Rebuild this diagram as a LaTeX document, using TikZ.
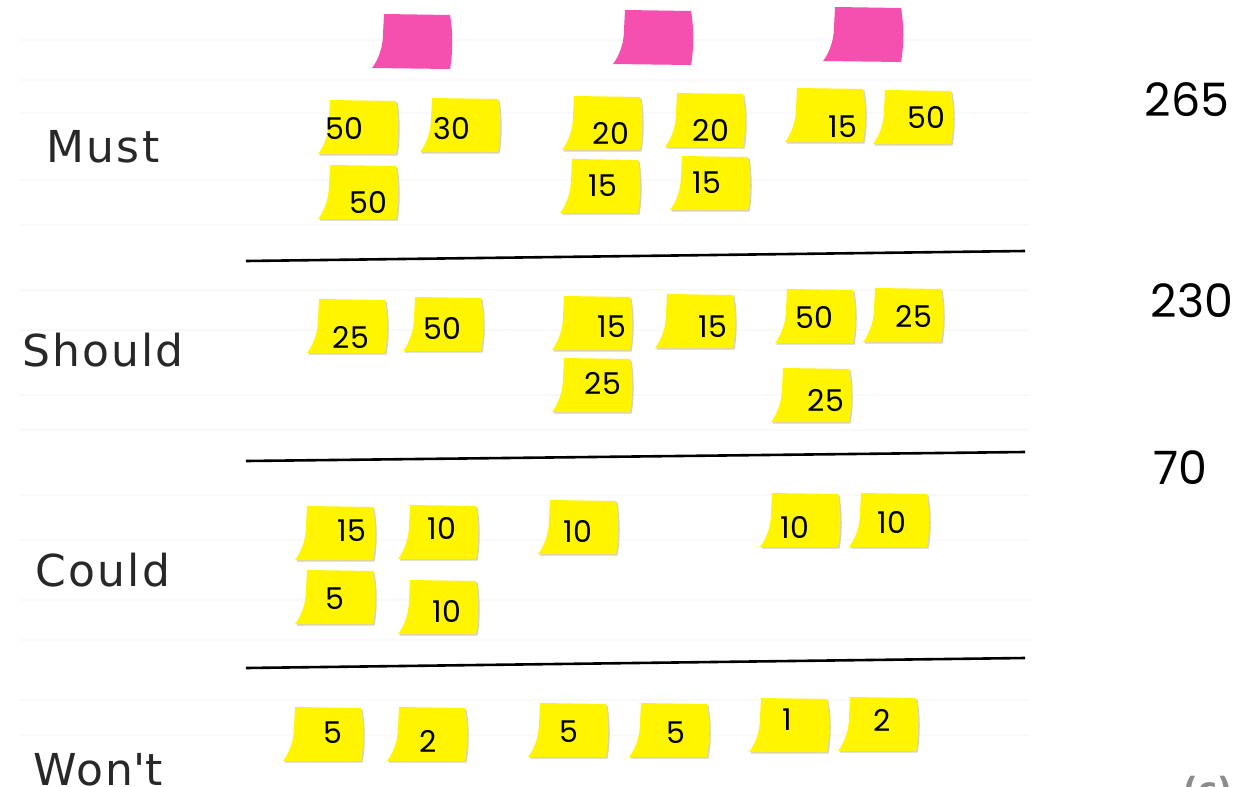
\documentclass[tikz,border=0pt]{standalone}
\usepackage{fontspec}
\setmainfont{DejaVu Sans}
\newfontfamily\numfont{Poppins}
\newfontfamily\labelfont[LetterSpace=5]{DejaVu Sans}
\definecolor{stickyyellow}{RGB}{255,245,0}
\definecolor{stickypink}{RGB}{245,80,176}
\definecolor{shadowbrown}{RGB}{150,130,60}
\definecolor{labelgray}{RGB}{40,40,40}
\tikzset{
  notenum/.style={font=\numfont\fontsize{15}{15}\selectfont, text=black, inner sep=0pt},
  rowlabel/.style={font=\labelfont\fontsize{22}{22}\selectfont, text=labelgray, inner sep=0pt},
  total/.style={font=\numfont\fontsize{23}{23}\selectfont, text=black, inner sep=0pt},
  divider/.style={line width=1.3pt, black},
}
\newcommand{\notepath}{(12,0) -- (78,1) .. controls (81,18) and (81,38) .. (78,54) -- (0,54) .. controls (7,45) and (11,32) .. (11,20) .. controls (11,10) .. (12,0) -- cycle}
% \sticky{name}{x}{y}{colour}{text}{textx}{texty}
\newcommand{\sticky}[7]{%
  \fill[shadowbrown!60, opacity=0.6, shift={(#2+1.5,#3+1.5)}] \notepath;
  \fill[#4, shift={(#2,#3)}] \notepath;
  \node[notenum] (#1) at (#6,#7) {#5};
}
\newcommand{\pinknote}[3]{%
  \fill[stickypink, shift={(#2,#3)}] (12,0) -- (78,1) .. controls (81,18) and (81,38) .. (78,55) -- (0,54) .. controls (7,45) and (11,32) .. (11,20) .. controls (11,10) .. (12,0) -- cycle;
  \coordinate (#1) at (#2+40,#3+28);
}
\begin{document}
\begin{tikzpicture}[x=0.5pt,y=-0.5pt]
\useasboundingbox (0,0) rectangle (1237,787);
\fill[white] (0,0) rectangle (1237,787);
\clip (0,0) rectangle (1237,787);

% faint paper lines
\foreach \yy in {40,80,113,180,225,290,330,395,430,495,540,600,640,700,735}
  \draw[black!2.5, line width=0.6pt] (20,\yy) -- (1030,\yy);

% row labels
\node[rowlabel] (must) at (103,147) {Must};
\node[rowlabel] (should) at (103,350) {Should};
\node[rowlabel] (could) at (103,570) {Could};
\node[rowlabel] (wont) at (98,770) {Won\textquotesingle t};

% dividers
\coordinate (d1l) at (246,261); \coordinate (d1r) at (1025,251);
\coordinate (d2l) at (246,461); \coordinate (d2r) at (1025,452);
\coordinate (d3l) at (246,668); \coordinate (d3r) at (1025,658);
\draw[divider] (d1l) -- (d1r);
\draw[divider] (d2l) -- (d2r);
\draw[divider] (d3l) -- (d3r);

% pink headers
\pinknote{p1}{372}{14}
\pinknote{p2}{613}{10}
\pinknote{p3}{823}{7}

% Must
\sticky{m1}{318}{100}{stickyyellow}{50}{344}{129}
\sticky{m2}{420}{98}{stickyyellow}{30}{452}{129}
\sticky{m3}{318}{165}{stickyyellow}{50}{368}{203}
\sticky{m4}{562}{96}{stickyyellow}{20}{611}{133}
\sticky{m5}{665}{93}{stickyyellow}{20}{711}{130}
\sticky{m6}{560}{159}{stickyyellow}{15}{603}{186}
\sticky{m7}{670}{156}{stickyyellow}{15}{707}{183}
\sticky{m8}{785}{88}{stickyyellow}{15}{843}{127}
\sticky{m9}{873}{90}{stickyyellow}{50}{926}{118}

% Should
\sticky{s1}{307}{299}{stickyyellow}{25}{351}{337}
\sticky{s2}{403}{297}{stickyyellow}{50}{442}{329}
\sticky{s3}{552}{296}{stickyyellow}{15}{612}{327}
\sticky{s4}{655}{294}{stickyyellow}{15}{713}{327}
\sticky{s5}{552}{358}{stickyyellow}{25}{603}{383}
\sticky{s6}{775}{289}{stickyyellow}{50}{814}{318}
\sticky{s7}{863}{288}{stickyyellow}{25}{914}{316}
\sticky{s8}{771}{368}{stickyyellow}{25}{826}{400}

% Could
\sticky{c1}{295}{506}{stickyyellow}{15}{352}{531}
\sticky{c2}{398}{505}{stickyyellow}{10}{442}{528}
\sticky{c3}{538}{500}{stickyyellow}{10}{578}{531}
\sticky{c4}{760}{493}{stickyyellow}{10}{795}{527}
\sticky{c5}{849}{493}{stickyyellow}{10}{892}{522}
\sticky{c6}{295}{570}{stickyyellow}{5}{335}{599}
\sticky{c7}{398}{580}{stickyyellow}{10}{447}{611}

% Won't
\sticky{w1}{283}{707}{stickyyellow}{5}{333}{733}
\sticky{w2}{387}{707}{stickyyellow}{2}{428}{741}
\sticky{w3}{528}{703}{stickyyellow}{5}{569}{732}
\sticky{w4}{629}{703}{stickyyellow}{5}{676}{733}
\sticky{w5}{749}{698}{stickyyellow}{1}{787}{720}
\sticky{w6}{838}{697}{stickyyellow}{2}{882}{720}

% totals
\node[total] (t1) at (1187,100) {265};
\node[total] (t2) at (1192,301) {230};
\node[total] (t3) at (1180,468) {70};

% copyright (cut off at the edge, as in the reference)
\node[font=\fontsize{16}{16}\selectfont\bfseries, text=black!45, anchor=base west, inner sep=0pt] (copy) at (1183,800) {(c) V};
\end{tikzpicture}
\end{document}
